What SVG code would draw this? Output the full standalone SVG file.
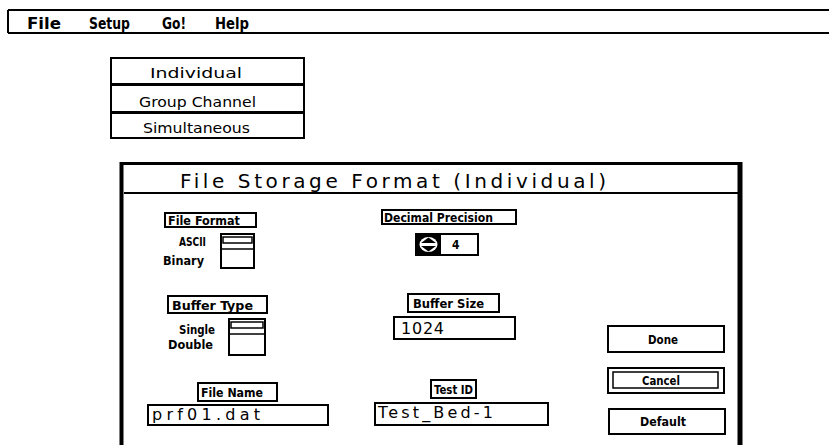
<svg xmlns="http://www.w3.org/2000/svg" width="829" height="445" viewBox="0 0 829 445">
  <style>
    .bx { fill: #fff; stroke: #000; stroke-width: 2; }
    .thin { fill: none; stroke: #000; stroke-width: 1.5; }
    .ln { stroke: #000; stroke-width: 2; fill: none; }
    .menu { font-family: "DejaVu Sans", "Liberation Sans", sans-serif; font-size: 15px; font-weight: bold; fill: #000; }
    .item { font-family: "DejaVu Sans", "Liberation Sans", sans-serif; font-size: 14px; fill: #000; }
    .title { font-family: "DejaVu Sans", "Liberation Sans", sans-serif; font-size: 20px; fill: #000; }
    .lbl { font-family: "DejaVu Sans Condensed", "DejaVu Sans", sans-serif; font-size: 12px; font-weight: bold; fill: #000; }
    .fld { font-family: "DejaVu Sans", "Liberation Sans", sans-serif; font-size: 16px; fill: #000; }
  </style>
  <rect width="829" height="445" fill="#fff"/>

  <!-- menu bar -->
  <g id="menubar">
    <line class="ln" x1="8" y1="10" x2="829" y2="10"/>
    <line class="ln" x1="8" y1="33" x2="829" y2="33"/>
    <line class="ln" x1="8" y1="10" x2="8" y2="33"/>
    <text class="menu" x="27" y="29" textLength="34" lengthAdjust="spacingAndGlyphs">File</text>
    <text class="menu" x="89" y="29" textLength="41" lengthAdjust="spacingAndGlyphs">Setup</text>
    <text class="menu" x="162" y="29" textLength="24" lengthAdjust="spacingAndGlyphs">Go!</text>
    <text class="menu" x="215" y="29" textLength="34" lengthAdjust="spacingAndGlyphs">Help</text>
  </g>

  <!-- pull-down menu -->
  <g id="modemenu">
    <rect class="bx" x="111" y="58" width="193" height="26"/>
    <rect class="bx" x="111" y="85" width="193" height="27"/>
    <rect class="bx" x="111" y="113" width="193" height="25"/>
    <text class="item" x="150" y="78" textLength="92" lengthAdjust="spacingAndGlyphs">Individual</text>
    <text class="item" x="139" y="107" textLength="117" lengthAdjust="spacingAndGlyphs">Group Channel</text>
    <text class="item" x="143" y="133" textLength="107" lengthAdjust="spacingAndGlyphs">Simultaneous</text>
  </g>

  <!-- dialog frame -->
  <g id="dialog">
    <line x1="121.5" y1="162" x2="121.5" y2="445" stroke="#000" stroke-width="4"/>
    <line x1="740" y1="162" x2="740" y2="445" stroke="#000" stroke-width="5"/>
    <line x1="120" y1="163.5" x2="742" y2="163.5" stroke="#000" stroke-width="3"/>
    <line class="ln" x1="124" y1="193" x2="740" y2="193"/>
    <text class="title" x="180" y="188" textLength="426" lengthAdjust="spacing">File Storage Format (Individual)</text>
  </g>

  <!-- file format -->
  <g id="fileformat">
    <rect class="bx" x="165" y="213" width="91" height="14"/>
    <text class="lbl" x="168" y="225" textLength="72" lengthAdjust="spacingAndGlyphs">File Format</text>
    <text class="lbl" x="179" y="246" textLength="27" lengthAdjust="spacingAndGlyphs">ASCII</text>
    <text class="lbl" x="163" y="265" textLength="41" lengthAdjust="spacingAndGlyphs">Binary</text>
    <rect class="bx" x="221" y="234" width="33" height="34"/>
    <rect class="thin" x="223" y="237" width="29" height="6"/>
    <line class="thin" x1="221" y1="249" x2="254" y2="249"/>
  </g>

  <!-- decimal precision -->
  <g id="precision">
    <rect class="bx" x="382" y="210" width="134" height="14"/>
    <text class="lbl" x="384" y="222" textLength="109" lengthAdjust="spacingAndGlyphs">Decimal Precision</text>
    <rect class="bx" x="416" y="234" width="62" height="21"/>
    <rect x="416" y="234" width="25" height="21" fill="#000"/>
    <ellipse cx="428.5" cy="244.5" rx="9" ry="7.5" fill="#fff"/>
    <path d="M421 243 L428.5 237.5 L436 243 Z M421 246 L428.5 251.5 L436 246 Z" fill="#000"/>
    <text class="lbl" x="452" y="249">4</text>
  </g>

  <!-- buffer type -->
  <g id="buffertype">
    <rect class="bx" x="168" y="296" width="99" height="17"/>
    <text class="lbl" x="172" y="310" textLength="81" lengthAdjust="spacingAndGlyphs">Buffer Type</text>
    <text class="lbl" x="179" y="334" textLength="36" lengthAdjust="spacingAndGlyphs">Single</text>
    <text class="lbl" x="168" y="349" textLength="45" lengthAdjust="spacingAndGlyphs">Double</text>
    <rect class="bx" x="229" y="319" width="36" height="36"/>
    <rect class="thin" x="231" y="322" width="32" height="6"/>
    <line class="thin" x1="229" y1="334" x2="265" y2="334"/>
  </g>

  <!-- buffer size -->
  <g id="buffersize">
    <rect class="bx" x="408" y="294" width="91" height="18"/>
    <text class="lbl" x="413" y="308" textLength="71" lengthAdjust="spacingAndGlyphs">Buffer Size</text>
    <rect class="bx" x="394" y="317" width="121" height="22"/>
    <text class="fld" x="401" y="334" textLength="43" lengthAdjust="spacing">1024</text>
  </g>

  <!-- buttons -->
  <g id="done">
    <rect class="bx" x="608" y="326" width="116" height="26"/>
    <text class="lbl" x="648" y="344" textLength="30" lengthAdjust="spacingAndGlyphs">Done</text>
  </g>
  <g id="cancel">
    <rect class="bx" x="608" y="368" width="116" height="25"/>
    <rect class="thin" x="613" y="372" width="105" height="16"/>
    <text class="lbl" x="642" y="385" textLength="38" lengthAdjust="spacingAndGlyphs">Cancel</text>
  </g>
  <g id="default">
    <rect class="bx" x="609" y="409" width="116" height="25" stroke-width="3"/>
    <text class="lbl" x="640" y="426" textLength="46" lengthAdjust="spacingAndGlyphs">Default</text>
  </g>

  <!-- file name -->
  <g id="filename">
    <rect class="bx" x="198" y="383" width="79" height="18"/>
    <text class="lbl" x="201" y="397" textLength="62" lengthAdjust="spacingAndGlyphs">File Name</text>
    <rect class="bx" x="148" y="405" width="180" height="20"/>
    <text class="fld" x="152" y="420" textLength="108" lengthAdjust="spacing">prf01.dat</text>
  </g>

  <!-- test id -->
  <g id="testid">
    <rect class="bx" x="431" y="380" width="45" height="18"/>
    <text class="lbl" x="434" y="394" textLength="39" lengthAdjust="spacingAndGlyphs">Test ID</text>
    <rect class="bx" x="375" y="403" width="173" height="22"/>
    <text class="fld" x="378" y="418" textLength="115" lengthAdjust="spacing">Test_Bed-1</text>
  </g>
</svg>
